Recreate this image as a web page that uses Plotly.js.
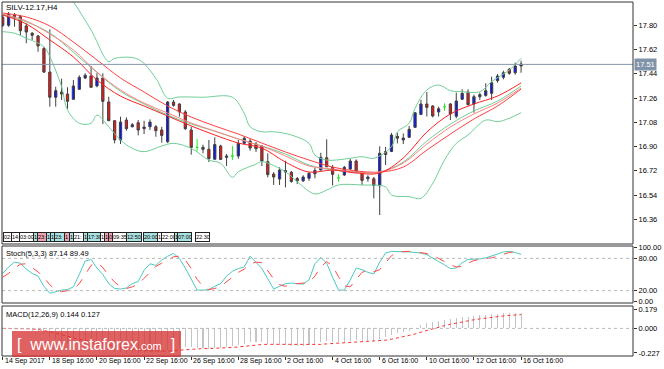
<!DOCTYPE html>
<html><head><meta charset="utf-8">
<script src="https://cdn.plot.ly/plotly-3.0.1.min.js"></script>
<style>html,body{margin:0;padding:0;background:#fff}#chart{width:664px;height:369px}</style>
</head><body><div id="chart"></div>
<script>
// ---- price data (H4 bars, index 0..88) ----
const openP=[17.860,17.800,17.879,17.864,17.795,17.741,17.721,17.627,17.453,17.266,
17.305,17.290,17.251,17.325,17.409,17.424,17.350,17.409,17.231,17.092,
16.949,17.097,17.047,17.077,17.033,17.047,17.047,17.023,16.936,17.231,
17.216,17.157,17.023,16.894,16.880,16.880,16.806,16.904,16.820,16.830,
16.830,16.924,16.941,16.919,16.904,16.788,16.696,16.659,16.711,16.709,
16.663,16.646,16.665,16.698,16.726,16.817,16.746,16.668,16.689,16.733,
16.793,16.711,16.661,16.661,16.609,16.863,16.863,16.976,16.949,16.969,
17.043,17.139,17.216,17.201,17.157,17.196,17.216,17.125,17.251,17.305,
17.216,17.270,17.280,17.295,17.389,17.414,17.474,17.448,17.498];
const highP=[17.877,17.899,17.891,17.877,17.815,17.750,17.728,17.641,17.770,17.344,
17.404,17.340,17.394,17.429,17.444,17.498,17.444,17.444,17.270,17.097,
17.122,17.117,17.075,17.097,17.092,17.102,17.060,17.047,17.238,17.246,
17.221,17.171,17.047,16.958,16.914,16.949,16.969,16.914,16.845,16.904,
16.949,16.978,16.958,16.934,16.912,16.850,16.711,16.746,16.795,16.719,
16.674,16.687,16.711,16.741,16.854,16.954,16.763,16.696,16.756,16.808,
16.805,16.719,16.687,16.674,16.902,16.897,17.001,17.003,16.998,17.053,
17.156,17.246,17.305,17.208,17.196,17.221,17.223,17.300,17.325,17.325,
17.285,17.300,17.370,17.419,17.439,17.463,17.483,17.523,17.537];
const lowP=[17.788,17.788,17.790,17.726,17.667,17.691,17.604,17.446,17.196,17.196,
17.246,17.181,17.246,17.320,17.402,17.335,17.340,17.067,17.090,16.924,
16.919,17.018,17.043,16.983,16.993,17.023,16.973,16.929,16.926,17.196,
17.122,17.023,16.840,16.865,16.850,16.785,16.805,16.800,16.756,16.800,
16.810,16.919,16.869,16.860,16.756,16.672,16.615,16.615,16.597,16.632,
16.622,16.637,16.646,16.664,16.721,16.750,16.612,16.639,16.681,16.726,
16.706,16.615,16.639,16.516,16.392,16.763,16.860,16.924,16.919,16.963,
17.038,17.134,17.123,17.117,17.122,17.166,17.097,17.110,17.246,17.206,
17.151,17.246,17.270,17.246,17.374,17.399,17.433,17.433,17.448];
const closeP=[17.800,17.884,17.860,17.760,17.750,17.726,17.647,17.453,17.266,17.315,
17.290,17.236,17.350,17.414,17.429,17.340,17.409,17.236,17.092,16.949,
17.082,17.033,17.062,17.023,17.045,17.082,17.018,16.983,17.231,17.206,
17.157,17.033,16.894,16.894,16.894,16.811,16.915,16.805,16.830,16.830,
16.924,16.961,16.889,16.884,16.793,16.692,16.674,16.726,16.721,16.641,
16.646,16.674,16.701,16.722,16.820,16.750,16.694,16.668,16.746,16.793,
16.713,16.649,16.674,16.611,16.850,16.841,16.986,16.962,16.963,17.028,
17.151,17.216,17.191,17.127,17.181,17.196,17.142,17.238,17.295,17.211,
17.270,17.285,17.315,17.374,17.424,17.448,17.444,17.498,17.513];

// ---- Bollinger bands ----
const ubBar=[0,6,10,12,15,18,19,23,26,28,30,34,39,41,42,44,46,49,52,53,55,59,61,63,66,67,69,70,72,74,76,78,81,83,86,88];
const ubVal=[18.062,18.099,18.099,17.975,17.765,17.530,17.555,17.548,17.407,17.260,17.268,17.266,17.266,17.147,17.047,17.010,17.010,16.986,16.924,16.837,16.800,16.813,16.825,16.813,16.899,17.010,17.073,17.184,17.320,17.357,17.315,17.307,17.307,17.382,17.468,17.555];
const lbBar=[0,2,4,7,8,10,11,13,15,16,18,20,22,24,27,29,32,35,37,39,40,43,44,48,50,53,55,57,61,65,66,69,71,73,75,77,79,82,84,86,88];
const lbVal=[17.753,17.741,17.704,17.641,17.567,17.344,17.171,17.073,17.073,17.134,17.047,16.949,16.887,16.862,16.904,16.924,16.887,16.800,16.776,16.672,16.713,16.770,16.788,16.713,16.639,16.548,16.577,16.615,16.615,16.600,16.540,16.528,16.516,16.627,16.800,16.924,16.986,17.097,17.085,17.110,17.151];
// ---- moving averages sampled every 4 bars ----
const maBar=[0,4,8,12,16,20,24,28,32,36,40,44,48,52,56,60,64,68,72,76,80,84,88];
const bbMid=[17.877,17.825,17.743,17.600,17.450,17.310,17.216,17.134,17.067,17.015,16.956,16.904,16.845,16.763,16.726,16.711,16.711,16.785,16.941,17.067,17.164,17.238,17.350];
const maSlow=[17.891,17.862,17.795,17.676,17.543,17.409,17.305,17.201,17.119,17.053,16.993,16.926,16.860,16.800,16.748,16.719,16.711,16.748,16.874,16.993,17.105,17.201,17.327];
const maMid=[17.884,17.832,17.736,17.617,17.453,17.320,17.223,17.149,17.075,17.015,16.956,16.904,16.830,16.756,16.733,16.711,16.711,16.778,16.919,17.045,17.142,17.223,17.335];
const maFast=[17.877,17.810,17.691,17.565,17.394,17.275,17.201,17.127,17.053,16.986,16.926,16.889,16.785,16.711,16.726,16.704,16.704,16.815,17.008,17.142,17.216,17.275,17.372];

// ---- Stochastic (5,3,3) ----
const stochK=[52,64,73,71,60,52,47,28,15,18,21,22,27,50,75,78,62,50,33,24,23,25,33,37,58,70,67,77,84,89,80,62,40,21,21,22,28,33,47,56,61,64,84,72,61,42,23,28,33,34,33,32,40,70,82,71,45,21,21,40,62,59,54,51,73,90,93,93,93,92,91,90,87,80,74,68,61,62,72,78,78,79,81,84,88,92,93,91,87.14];
const stochD=[45,52,62,69,70,63,55,44,31,21,18,20,23,33,50,67,72,63,48,36,27,24,27,32,43,55,65,71,76,83,84,77,61,41,28,22,24,28,36,45,54,60,70,73,72,58,42,31,28,32,33,33,35,47,64,74,66,46,29,27,41,54,58,55,59,71,85,92,93,93,92,91,89,86,80,74,68,64,65,71,76,78,79,81,84,88,91,92,89.49];

// ---- MACD (12,26,9) ----
const macdMain=[0,0,0.005,0,-0.01,-0.02,-0.03,-0.05,-0.08,-0.1,-0.12,-0.14,-0.15,-0.15,-0.15,-0.155,-0.16,-0.18,-0.2,-0.215,-0.22,-0.225,-0.227,-0.225,-0.225,-0.22,-0.22,-0.22,-0.2,-0.185,-0.175,-0.17,-0.17,-0.18,-0.18,-0.19,-0.18,-0.18,-0.17,-0.16,-0.15,-0.14,-0.13,-0.13,-0.13,-0.14,-0.15,-0.15,-0.15,-0.16,-0.16,-0.16,-0.155,-0.15,-0.13,-0.12,-0.125,-0.13,-0.125,-0.115,-0.11,-0.115,-0.115,-0.12,-0.095,-0.08,-0.06,-0.045,-0.035,-0.02,0.005,0.03,0.05,0.06,0.07,0.08,0.085,0.095,0.105,0.11,0.115,0.12,0.125,0.13,0.135,0.14,0.142,0.145,0.144];
const macdSignal=[0,0,0,0,-0.002,-0.005,-0.01,-0.017,-0.03,-0.044,-0.06,-0.076,-0.09,-0.102,-0.112,-0.12,-0.128,-0.138,-0.15,-0.163,-0.174,-0.184,-0.193,-0.2,-0.205,-0.208,-0.21,-0.212,-0.21,-0.205,-0.2,-0.195,-0.19,-0.188,-0.186,-0.186,-0.185,-0.183,-0.18,-0.176,-0.171,-0.165,-0.158,-0.153,-0.149,-0.147,-0.147,-0.148,-0.148,-0.15,-0.152,-0.153,-0.153,-0.153,-0.148,-0.143,-0.14,-0.138,-0.135,-0.131,-0.127,-0.124,-0.122,-0.121,-0.116,-0.109,-0.1,-0.089,-0.078,-0.066,-0.052,-0.035,-0.018,-0.002,0.012,0.026,0.038,0.05,0.061,0.071,0.08,0.088,0.096,0.103,0.109,0.115,0.12,0.124,0.127];

// ---- axis labels ----
const timeTickBars=[0,8,16,24,32,40,48,56,64,72,80,88];
const timeTickLabels=['14 Sep 2017','18 Sep 16:00','20 Sep 16:00','22 Sep 16:00','26 Sep 16:00','28 Sep 16:00','2 Oct 16:00','4 Oct 16:00','6 Oct 16:00','10 Oct 16:00','12 Oct 16:00','16 Oct 16:00'];
const priceTicks=[17.80,17.62,17.44,17.26,17.08,16.90,16.72,16.54,16.36];
const lastPrice=17.51;

// event tags along the bottom of the price panel: text, fill, left px, box width px
const tags=[['02:','#fff',3,7],['14:','#fff',11,7],['03:00','#fff',19,13],['1','#a9e2e2',33,3],['23:','#f2a3b3',37,8],['1','#a9e2e2',46,3],['1','#a9e2e2',50,3],['23:','#a9e2e2',54,9],['1','#f2a3b3',64,4],['1','#a9e2e2',69,3],['21:','#fff',73,9],['1','#a9e2e2',83,3],['17:30','#a9e2e2',87,12],['1','#fff',100,3],['1','#f2a3b3',104,3],['0','#f2a3b3',108,3],['09:35','#fff',112,13],['12:50','#a9e2e2',126,14],['20:00','#a9e2e2',143,13],['1','#fff',157,3],['22:00','#fff',161,12],['1','#a9e2e2',174,2],['07:00','#a9e2e2',177,13],['22:30','#fff',195,13]];

const F='Liberation Sans, Arial, sans-serif';
const N=openP.length;
const idx=[...Array(N).keys()];
const isDoji=idx.map(i=>openP[i]===closeP[i]);
const pick=(arr,want)=>idx.filter(i=>isDoji[i]===want).map(i=>arr[i]);

const traces=[
 {type:'scatter',mode:'lines',x:ubBar,y:ubVal,line:{color:'#6fcf97',width:1,shape:'spline'},hoverinfo:'skip'},
 {type:'scatter',mode:'lines',x:lbBar,y:lbVal,line:{color:'#6fcf97',width:1,shape:'spline'},hoverinfo:'skip'},
 {type:'scatter',mode:'lines',x:maBar,y:bbMid,line:{color:'#6fcf97',width:1,shape:'spline'},hoverinfo:'skip'},
 {type:'scatter',mode:'lines',x:maBar,y:maSlow,line:{color:'#ff4040',width:1,shape:'spline'},hoverinfo:'skip'},
 {type:'scatter',mode:'lines',x:maBar,y:maMid,line:{color:'#ff8080',width:1,shape:'spline'},hoverinfo:'skip'},
 {type:'scatter',mode:'lines',x:maBar,y:maFast,line:{color:'#ff2020',width:1,shape:'spline'},hoverinfo:'skip'},
 {type:'candlestick',x:pick(idx,false),open:pick(openP,false),high:pick(highP,false),low:pick(lowP,false),close:pick(closeP,false),
  increasing:{line:{color:'#404040',width:1},fillcolor:'#0a14ff'},decreasing:{line:{color:'#404040',width:1},fillcolor:'#ff1010'},whiskerwidth:0,hoverinfo:'skip'},
 {type:'candlestick',x:pick(idx,true),open:pick(openP,true),high:pick(highP,true),low:pick(lowP,true),close:pick(closeP,true),
  increasing:{line:{color:'#22ee22',width:1}},decreasing:{line:{color:'#22ee22',width:1}},whiskerwidth:0,hoverinfo:'skip'},
 {type:'scatter',mode:'lines',x:idx,y:stochK,yaxis:'y2',line:{color:'#4cc9c0',width:1},hoverinfo:'skip'},
 {type:'scatter',mode:'lines',x:idx,y:stochD,yaxis:'y2',line:{color:'#ff4a4a',width:1,dash:'dash'},hoverinfo:'skip'},
 {type:'bar',x:idx,y:macdMain,yaxis:'y3',width:0.18,marker:{color:'#c4c4c4',line:{width:0}},hoverinfo:'skip'},
 {type:'scatter',mode:'lines',x:idx,y:macdSignal,yaxis:'y3',line:{color:'#ff3030',width:1,dash:'dot'},hoverinfo:'skip'}
];

// pixel helpers (plot area: x 2..633, y 2..356)
const px=x=>(x-2)/631, py=y=>(356-y)/354;

const shapes=[
 {type:'line',xref:'paper',yref:'y',x0:0,x1:1,y0:lastPrice,y1:lastPrice,line:{color:'#8796a8',width:1}},
 {type:'line',xref:'paper',yref:'y2',x0:0,x1:1,y0:80,y1:80,line:{color:'#b8b8b8',width:1,dash:'dot'}},
 {type:'line',xref:'paper',yref:'y2',x0:0,x1:1,y0:20,y1:20,line:{color:'#b8b8b8',width:1,dash:'dot'}},
 {type:'line',xref:'paper',yref:'y3',x0:0,x1:1,y0:0,y1:0,line:{color:'#b8b8b8',width:1,dash:'dot'}},
 {type:'rect',xref:'paper',yref:'paper',x0:0,x1:1,y0:py(244),y1:py(2),line:{color:'#333',width:1}},
 {type:'rect',xref:'paper',yref:'paper',x0:0,x1:1,y0:py(303),y1:py(246),line:{color:'#333',width:1}},
 {type:'rect',xref:'paper',yref:'paper',x0:0,x1:1,y0:py(356),y1:py(306),line:{color:'#333',width:1}},
 {type:'rect',xref:'paper',yref:'paper',x0:px(12),x1:px(181),y0:py(357),y1:py(331),fillcolor:'rgba(214,52,52,0.78)',line:{width:0},layer:'above'}
];

const ann=[
 {xref:'paper',yref:'paper',x:px(4),y:py(8),xanchor:'left',yanchor:'middle',text:'SILV-12.17,H4',showarrow:false,font:{family:F,size:8,color:'#000'}},
 {xref:'paper',yref:'paper',x:px(4),y:py(253),xanchor:'left',yanchor:'middle',text:'Stoch(5,3,3) 87.14 89.49',showarrow:false,font:{family:F,size:7.5,color:'#000'}},
 {xref:'paper',yref:'paper',x:px(4),y:py(314),xanchor:'left',yanchor:'middle',text:'MACD(12,26,9) 0.144 0.127',showarrow:false,font:{family:F,size:7.5,color:'#000'}},
 {xref:'paper',yref:'y',x:1,y:lastPrice,xanchor:'left',yanchor:'middle',xshift:1,text:'17.51',showarrow:false,bgcolor:'#8193a8',borderpad:1,font:{family:F,size:7.5,color:'#fff'}},
 {xref:'paper',yref:'paper',x:px(96),y:py(344),xanchor:'center',yanchor:'middle',showarrow:false,
  text:'[  www.instaforex<span style="font-size:11px">.com</span>  ]',font:{family:F,size:16,color:'#fff'}}
];
timeTickBars.forEach((b,i)=>ann.push({xref:'x',yref:'paper',x:b,y:py(360.5),xanchor:'left',yanchor:'middle',xshift:0,text:timeTickLabels[i],showarrow:false,font:{family:F,size:7,color:'#000'}}));
tags.forEach(t=>ann.push({xref:'paper',yref:'paper',x:px(t[2]),y:py(237),xanchor:'left',yanchor:'middle',width:t[3],height:8,align:'left',text:t[0],showarrow:false,bgcolor:t[1],bordercolor:'#222',borderwidth:1,borderpad:0,font:{family:F,size:5.5,color:'#000'}}));

const layout={
 width:664,height:369,margin:{l:2,r:31,t:2,b:13},paper_bgcolor:'#fff',plot_bgcolor:'#fff',
 showlegend:false,boxgap:0.45,bargap:0,hovermode:false,font:{family:F,size:7.5,color:'#000'},
 xaxis:{range:[-0.12,107.0],anchor:'y3',showgrid:false,zeroline:false,showline:false,tickvals:timeTickBars,ticktext:timeTickBars.map(()=>''),ticks:'outside',ticklen:3,tickcolor:'#333',rangeslider:{visible:false},fixedrange:true},
 yaxis:{domain:[py(244),1],range:[16.177,17.973],side:'right',showgrid:false,zeroline:false,showline:false,tickvals:priceTicks,ticktext:priceTicks.map(v=>v.toFixed(2)),ticks:'outside',ticklen:3,tickcolor:'#333',tickfont:{family:F,size:7.5,color:'#000'}},
 yaxis2:{domain:[py(303),py(246)],range:[-3,103],side:'right',showgrid:false,zeroline:false,showline:false,tickvals:[0,20,80,100],ticktext:['0.00','20.00','80.00','100.00'],ticks:'outside',ticklen:3,tickcolor:'#333',tickfont:{family:F,size:7.5,color:'#000'}},
 yaxis3:{domain:[0,py(306)],range:[-0.255,0.207],side:'right',showgrid:false,zeroline:false,showline:false,tickvals:[0.179,0,-0.227],ticktext:['0.179','0.000','-0.227'],ticks:'outside',ticklen:3,tickcolor:'#333',tickfont:{family:F,size:7.5,color:'#000'}},
 shapes:shapes,annotations:ann
};
Plotly.newPlot('chart',traces,layout,{staticPlot:true,displayModeBar:false});
</script></body></html>
